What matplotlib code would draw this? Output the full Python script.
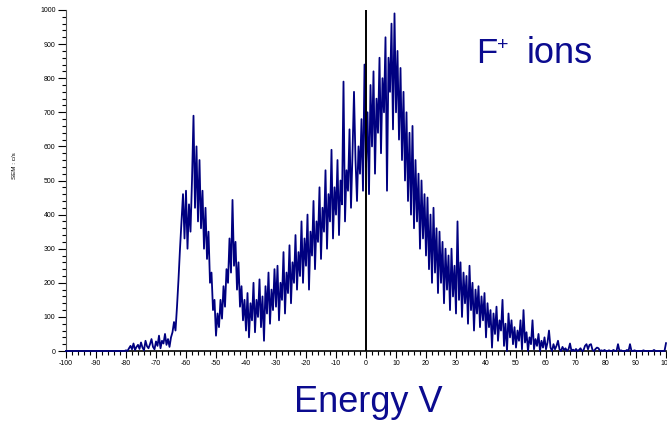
import numpy as np
import matplotlib
matplotlib.use("Agg")
import matplotlib.pyplot as plt
from matplotlib.ticker import MultipleLocator

plt.rcParams['font.family'] = ['Liberation Sans', 'DejaVu Sans']
plt.rcParams['axes.unicode_minus'] = False

# Energy grid (V), sampled every 0.5 V
energy = np.arange(-100, 100.5, 0.5)

# SEM counts (c/s), grouped per 10 V
counts = [
    # -100 .. -90.5
    0, 0, 0, 0, 0, 0, 0, 0, 0, 0, 0, 0, 0, 0, 0, 0, 0, 0, 0, 0,
    # -90 .. -80.5
    0, 0, 0, 0, 0, 0, 0, 0, 0, 0, 0, 0, 0, 0, 0, 0, 0, 0, 0, 0,
    # -80 .. -70.5
    2, 0, 8, 15, 5, 22, 3, 12, 18, 6, 25, 10, 2, 30, 14, 8, 20, 35, 12, 5,
    # -70 .. -60.5
    28, 15, 45, 8, 30, 22, 50, 18, 35, 12, 40, 55, 85, 60, 130, 210, 300, 380, 460, 330,
    # -60 .. -50.5
    470, 300, 430, 350, 500, 690, 420, 600, 380, 560, 360, 470, 300, 420, 270, 350, 200, 230, 120, 150,
    # -50 .. -40.5
    45, 110, 70, 150, 95, 190, 130, 240, 200, 330, 230, 443, 250, 320, 180, 260, 130, 190, 90, 150,
    # -40 .. -30.5
    60, 170, 40, 140, 90, 200, 55, 150, 100, 210, 70, 160, 30, 190, 110, 230, 80, 180, 120, 240,
    # -30 .. -20.5
    130, 250, 90, 200, 150, 290, 110, 230, 170, 310, 140, 260, 200, 340, 180, 290, 220, 380, 200, 330,
    # -20 .. -10.5
    250, 400, 180, 350, 280, 440, 240, 380, 320, 480, 270, 420, 350, 530, 300, 460, 380, 590, 330, 480,
    # -10 .. -0.5
    400, 560, 340, 500, 430, 790, 380, 530, 470, 650, 420, 580, 760, 560, 440, 600, 520, 680, 470, 840,
    # 0 .. 9.5
    540, 700, 460, 780, 600, 820, 520, 740, 640, 860, 580, 800, 700, 920, 470, 860, 760, 960, 650, 990,
    # 10 .. 19.5
    700, 880, 620, 830, 560, 760, 500, 700, 440, 640, 400, 660, 360, 560, 380, 520, 300, 500, 330, 460,
    # 20 .. 29.5
    280, 450, 240, 400, 200, 420, 230, 360, 170, 350, 200, 320, 140, 300, 180, 280, 120, 300, 160, 250,
    # 30 .. 39.5
    110, 380, 150, 260, 100, 230, 140, 220, 80, 250, 120, 200, 60, 180, 110, 190, 70, 160, 90, 170,
    # 40 .. 49.5
    40, 140, 70, 120, 10, 110, 50, 130, 30, 90, 60, 150, 15, 80, 0, 110, 40, 90, 20, 70,
    # 50 .. 59.5
    10, 60, 30, 90, 5, 120, 25, 55, 0, 40, 20, 90, 5, 35, 15, 50, 0, 30, 10, 40,
    # 60 .. 69.5
    5, 25, 60, 10, 0, 20, 5, 15, 30, 5, 0, 12, 3, 8, 0, 5, 22, 0, 4, 0,
    # 70 .. 79.5
    6, 0, 3, 8, 0, 2, 15, 20, 5, 18, 20, 3, 0, 6, 10, 8, 0, 2, 0, 3,
    # 80 .. 89.5
    0, 0, 2, 0, 0, 3, 0, 0, 20, 0, 2, 0, 0, 0, 3, 0, 20, 0, 0, 2,
    # 90 .. 100
    0, 0, 0, 0, 0, 2, 0, 0, 0, 0, 0, 0, 3, 0, 0, 0, 0, 0, 0, 0, 23,
]

x_ticks = list(range(-100, 101, 10))
y_ticks = list(range(0, 1001, 100))

fig = plt.figure(figsize=(6.67, 4.22), dpi=100)
ax = fig.add_axes([66/667, 1 - 351/422, 600/667, 341/422])

ax.plot(energy, counts, color='#000080', lw=1.3, clip_on=False, zorder=3)
ax.axvline(0, color='black', lw=1.4, zorder=4)

ax.set_xlim(-100, 100)
ax.set_ylim(0, 1000)
ax.set_xticks(x_ticks)
ax.set_yticks(y_ticks)
ax.xaxis.set_minor_locator(MultipleLocator(2))
ax.yaxis.set_minor_locator(MultipleLocator(20))
ax.tick_params(axis='y', which='major', direction='out', length=6, width=0.8,
               labelsize=5, pad=1.5)
ax.tick_params(axis='x', which='major', direction='out', length=5, width=0.8,
               labelsize=5, pad=1.5)
ax.tick_params(axis='both', which='minor', direction='out', length=3, width=0.8)
for s in ['top', 'right']:
    ax.spines[s].set_visible(False)
ax.spines['left'].set_color('#555555')
ax.spines['bottom'].set_color('black')
ax.spines['bottom'].set_linewidth(1.2)
ax.set_ylabel('SEM : c/s', fontsize=4.5)
ax.yaxis.set_label_coords((17 - 66) / 600, (351 - 166) / 341)

txt_color = '#0b0b8f'
fig.text(476/667, 1 - 63/422, 'F', fontsize=25, color=txt_color,
         ha='left', va='baseline')
fig.text(497/667, 1 - 50/422, '+', fontsize=14, color=txt_color,
         ha='left', va='baseline')
fig.text(527/667, 1 - 63/422, 'ions', fontsize=26, color=txt_color,
         ha='left', va='baseline')
fig.text(368.5/667, 1 - 412/422, 'Energy V', fontsize=26, color=txt_color,
         ha='center', va='baseline')

fig.savefig('out.png', dpi=100)
